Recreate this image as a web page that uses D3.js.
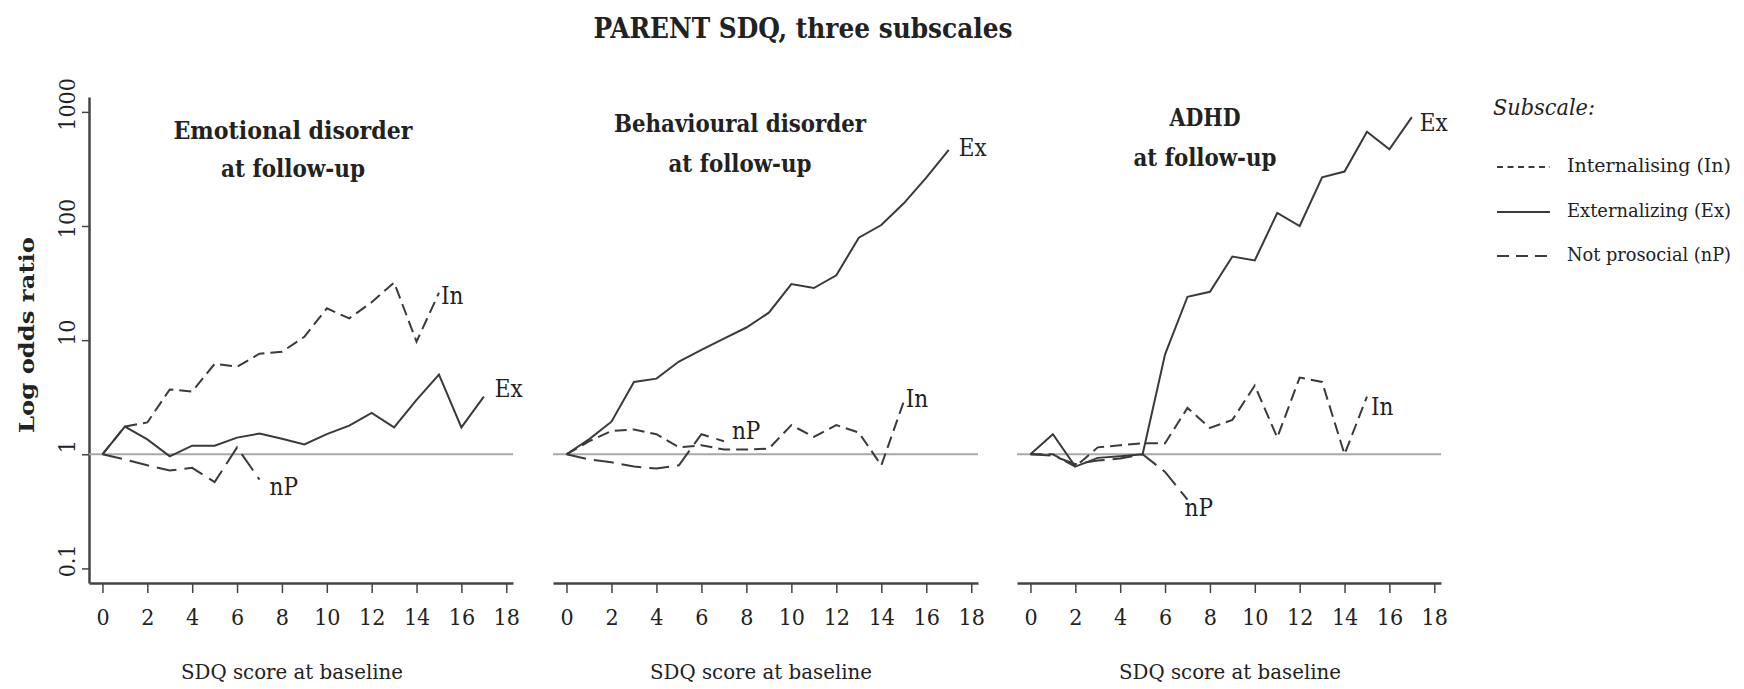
<!DOCTYPE html>
<html>
<head>
<meta charset="utf-8">
<script src="https://cdn.jsdelivr.net/npm/d3@7"></script>
<style>
  body { margin: 0; background: #fff; }
  svg text { font-family: "DejaVu Serif Condensed", "DejaVu Serif", serif; fill: #222; }
</style>
</head>
<body>
<div id="chart"></div>
<script>
// ticks
var xTicks = [0, 2, 4, 6, 8, 10, 12, 14, 16, 18];
var yTicks = [0.1, 1, 10, 100, 1000];

// odds ratios by SDQ score at baseline (score = array index)
var emoIn  = [1, 1.75, 1.9, 3.7, 3.55, 6.2, 5.85, 7.6, 7.9, 10.7, 19, 15.5, 21.5, 32, 9.7, 26];
var emoEx  = [1, 1.75, 1.35, 0.96, 1.19, 1.19, 1.4, 1.52, 1.37, 1.22, 1.5, 1.78, 2.3, 1.72, 3.0, 5.0, 1.72, 3.2];
var emoNP  = [1, 0.9, 0.8, 0.72, 0.76, 0.57, 1.15, 0.6];

var behIn  = [1, 1.3, 1.6, 1.65, 1.5, 1.15, 1.2, 1.1, 1.1, 1.12, 1.8, 1.42, 1.8, 1.55, 0.8, 2.9];
var behEx  = [1, 1.35, 1.93, 4.3, 4.6, 6.5, 8.2, 10.3, 12.9, 17.4, 31, 28.6, 37, 79, 102, 158, 265, 465];
var behNP  = [1, 0.9, 0.85, 0.78, 0.75, 0.8, 1.5, 1.3];

var adhdIn = [1, 1.0, 0.78, 1.15, 1.2, 1.25, 1.25, 2.55, 1.7, 2.0, 4.0, 1.4, 4.7, 4.3, 1.0, 3.2];
var adhdEx = [1, 1.5, 0.78, 0.93, 0.96, 1.0, 7.5, 24, 26.5, 54, 50, 130, 100, 267, 300, 670, 470, 900];
var adhdNP = [1, 0.97, 0.82, 0.88, 0.92, 1.0, 0.7, 0.4];

var dashIn = "12,6", dashNP = "20,8";
var lineColor = "#3a3a3a";

var panels = [
  { title: ["Emotional  disorder", "at follow-up"], lens: [239, 144], cx: 293, ty: [130, 168], range: [89, 513], xlabCx: 292,
    series: [
      { data: emoIn, dash: dashIn, label: "In", dx: 2, dy: 3 },
      { data: emoEx, dash: null, label: "Ex", dx: 11, dy: -8 },
      { data: emoNP, dash: dashNP, label: "nP", dx: 10, dy: 7 }
    ] },
  { title: ["Behavioural disorder", "at follow-up"], lens: [252, 143], cx: 740, ty: [123, 163], range: [553, 978], xlabCx: 761,
    series: [
      { data: behIn, dash: dashIn, label: "In", dx: 2, dy: -3 },
      { data: behEx, dash: null, label: "Ex", dx: 10, dy: -2 },
      { data: behNP, dash: dashNP, label: "nP", dx: 8, dy: -10 }
    ] },
  { title: ["ADHD", "at follow-up"], lens: [71, 143], cx: 1205, ty: [117, 157], range: [1017, 1441], xlabCx: 1230,
    series: [
      { data: adhdIn, dash: dashIn, label: "In", dx: 4, dy: 10 },
      { data: adhdEx, dash: null, label: "Ex", dx: 8, dy: 6 },
      { data: adhdNP, dash: dashNP, label: "nP", dx: -3, dy: 8 }
    ] }
];

var width = 1744, height = 689;

var svg = d3.select("#chart")
  .append("svg")
    .attr("width", width)
    .attr("height", height);

// main title
svg.append("text")
  .attr("x", 803)
  .attr("y", 28)
  .attr("text-anchor", "middle")
  .attr("dominant-baseline", "central")
  .attr("font-weight", "bold")
  .attr("font-size", 27)
  .attr("textLength", 419)
  .attr("lengthAdjust", "spacingAndGlyphs")
  .text("PARENT SDQ, three subscales");

// shared log y scale (axis runs a little past 0.1 and 1000)
var y = d3.scaleLog()
  .domain([0.0745, 1350])
  .range([583, 97]);

// y axis on the first panel
var yAxis = svg.append("g")
  .attr("transform", "translate(89,0)")
  .call(d3.axisLeft(y).tickValues(yTicks).tickSize(7).tickSizeOuter(0).tickFormat(d3.format("")));
yAxis.select(".domain").attr("stroke", "#444").attr("stroke-width", 2.5);
yAxis.selectAll(".tick line").attr("stroke", "#444").attr("stroke-width", 1.5);
yAxis.selectAll(".tick text")
  .attr("x", null).attr("dy", null)
  .attr("transform", "translate(-22,-8) rotate(-90)")
  .attr("text-anchor", "middle")
  .attr("dominant-baseline", "central")
  .attr("font-size", 23)
  .attr("font-family", "DejaVu Serif Condensed")
  .attr("fill", "#222");

svg.append("text")
  .attr("transform", "translate(26,335) rotate(-90)")
  .attr("text-anchor", "middle")
  .attr("dominant-baseline", "central")
  .attr("font-weight", "bold")
  .attr("font-size", 21)
  .attr("textLength", 196)
  .attr("lengthAdjust", "spacingAndGlyphs")
  .text("Log odds ratio");

panels.forEach(function(p) {
  var x = d3.scaleLinear()
    .domain([-0.6, 18.3])
    .range(p.range);

  var g = svg.append("g");

  // reference line at OR = 1
  g.append("line")
    .attr("x1", x(-0.6)).attr("x2", x(18.3))
    .attr("y1", y(1)).attr("y2", y(1))
    .attr("stroke", "#a8a8a8")
    .attr("stroke-width", 2);

  // x axis
  var xAxis = g.append("g")
    .attr("transform", "translate(0,583)")
    .call(d3.axisBottom(x).tickValues(xTicks).tickSize(10).tickSizeOuter(0));
  xAxis.select(".domain").attr("stroke", "#444").attr("stroke-width", 2.5);
  xAxis.selectAll(".tick line").attr("stroke", "#444").attr("stroke-width", 1.5);
  xAxis.selectAll(".tick text")
    .attr("y", 34).attr("dy", "0.35em")
    .attr("font-size", 23)
    .attr("font-family", "DejaVu Serif Condensed")
    .attr("fill", "#222");

  g.append("text")
    .attr("x", p.xlabCx)
    .attr("y", 672)
    .attr("text-anchor", "middle")
    .attr("dominant-baseline", "central")
    .attr("font-size", 21)
    .attr("textLength", 222)
    .attr("lengthAdjust", "spacingAndGlyphs")
    .text("SDQ score at baseline");

  // panel title
  p.title.forEach(function(t, i) {
    g.append("text")
      .attr("x", p.cx)
      .attr("y", p.ty[i])
      .attr("text-anchor", "middle")
      .attr("dominant-baseline", "central")
      .attr("font-weight", "bold")
      .attr("font-size", 24)
      .attr("textLength", p.lens[i])
      .attr("lengthAdjust", "spacingAndGlyphs")
      .text(t);
  });

  var line = d3.line()
    .x(function(d, i) { return x(i); })
    .y(function(d) { return y(d); });

  p.series.forEach(function(s) {
    g.append("path")
      .datum(s.data)
      .attr("fill", "none")
      .attr("stroke", lineColor)
      .attr("stroke-width", 2)
      .attr("stroke-dasharray", s.dash)
      .attr("d", line);

    var last = s.data.length - 1;
    g.append("text")
      .attr("x", x(last) + s.dx)
      .attr("y", y(s.data[last]) + s.dy)
      .attr("dominant-baseline", "central")
      .attr("font-size", 24)
      .text(s.label);
  });
});

// legend
var legend = svg.append("g");
legend.append("text")
  .attr("x", 1493)
  .attr("y", 107)
  .attr("dominant-baseline", "central")
  .attr("font-style", "italic")
  .attr("font-size", 22)
  .attr("textLength", 102)
  .attr("lengthAdjust", "spacingAndGlyphs")
  .text("Subscale:");

var legendItems = [
  { name: "Internalising (In)", dash: "6,4.5", y: 165 },
  { name: "Externalizing  (Ex)", dash: null, y: 210 },
  { name: "Not prosocial (nP)", dash: "12,7", y: 254 }
];
legendItems.forEach(function(d) {
  legend.append("line")
    .attr("x1", 1497).attr("x2", 1550)
    .attr("y1", d.y + 2).attr("y2", d.y + 2)
    .attr("stroke", lineColor)
    .attr("stroke-width", 2)
    .attr("stroke-dasharray", d.dash);
  legend.append("text")
    .attr("x", 1567)
    .attr("y", d.y)
    .attr("dominant-baseline", "central")
    .attr("font-size", 19)
    .attr("textLength", 164)
    .attr("lengthAdjust", "spacingAndGlyphs")
    .text(d.name);
});
</script>
</body>
</html>
